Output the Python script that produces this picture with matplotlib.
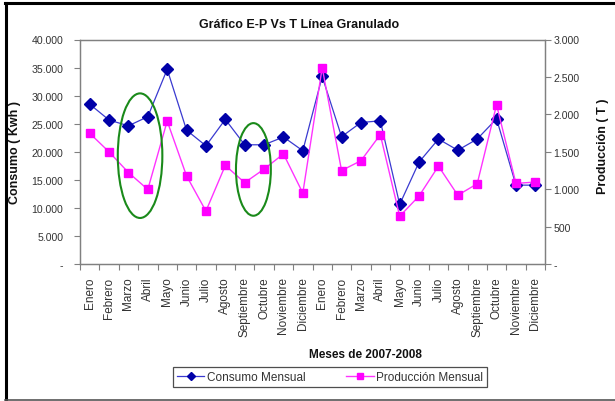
import matplotlib
matplotlib.use("Agg")
import matplotlib.pyplot as plt
from matplotlib.patches import Ellipse
from matplotlib.lines import Line2D
from matplotlib.ticker import FuncFormatter, FixedLocator
import numpy as np

plt.rcParams["font.family"] = ["Liberation Sans", "DejaVu Sans"]

# data (2007-2008)
meses = ["Enero", "Febrero", "Marzo", "Abril", "Mayo", "Junio", "Julio",
         "Agosto", "Septiembre", "Octubre", "Noviembre", "Diciembre"] * 2
consumo = [28480, 25650, 24620, 26250, 34690, 23840, 21060, 25770, 21240,
           21240, 22630, 20180, 33410, 22680, 25210, 25510, 10620, 18160,
           22260, 20270, 22260, 25880, 14050, 14050]
produccion = [1747, 1498, 1222, 996, 1910, 1177, 707, 1317, 1087, 1268,
              1471, 948, 2624, 1249, 1380, 1729, 638, 909, 1308, 919, 1072,
              2127, 1077, 1095]

# highlighted zones (x index centre, width, consumo centre, height)
zonas = [(2.6, 2.3, 19300, 22200), (8.45, 1.8, 16850, 16500)]

TXT = "#333333"
GRID = "#808080"

fig = plt.figure(figsize=(6.15, 4.02), dpi=100)
ax = fig.add_axes([80/615, 1 - 265/402, 465/615, 224.5/402])
ax2 = ax.twinx()

x = np.arange(len(meses))
ax.plot(x, consumo, color="#3a3ad0", lw=0.9, marker="D", ms=5.8,
        mfc="#0000a8", mec="#0000a8", zorder=3)
ax2.plot(x, produccion, color="#ff33ff", lw=1.0, marker="s", ms=5.8,
         mfc="#ff00ff", mec="#ff00ff", zorder=3)

for cx, w, cy, h in zonas:
    ax2.add_patch(Ellipse((cx, cy), w, h, fill=False, ec="#1a8a1a", lw=1.5,
                          transform=ax.transData, zorder=5))

ax.set_xlim(-0.5, len(meses) - 0.5)
ax.set_ylim(0, 40000)
ax2.set_ylim(0, 3000)
ax.set_yticks(np.arange(0, 40001, 5000))
ax2.set_yticks(np.arange(0, 3001, 500))

fmt = FuncFormatter(lambda v, p: "-" if v == 0 else f"{v:,.0f}".replace(",", "."))
ax.yaxis.set_major_formatter(fmt)
ax2.yaxis.set_major_formatter(fmt)

ax.xaxis.set_major_locator(FixedLocator(np.arange(-0.5, len(meses), 1)))
ax.xaxis.set_minor_locator(FixedLocator(x))
ax.set_xticklabels([])
ax.set_xticklabels(meses, minor=True, rotation=90, fontsize=8.5, color=TXT)
ax.tick_params(axis="x", which="minor", length=0, pad=9)
ax.tick_params(axis="x", which="major", length=4, color=GRID, direction="out")

for a in (ax, ax2):
    for s in a.spines.values():
        s.set_color(GRID)
        s.set_linewidth(0.9)
ax.tick_params(axis="y", length=4, color=GRID, labelsize=7.6, labelcolor=TXT, pad=8)
ax2.tick_params(axis="y", length=4, color=GRID, labelsize=7.6, labelcolor=TXT, pad=2)

fig.text(299/615, 1 - 25/402, "Gráfico E-P Vs T Línea Granulado", ha="center",
         va="center", fontsize=9, fontweight="bold", color="#111111")
fig.text(15/615, 1 - 152/402, "Consumo ( Kwh )", rotation=90, ha="center",
         va="center", fontsize=9, fontweight="bold", color="#111111")
fig.text(603/615, 1 - 146/402, "Producción ( T )", rotation=90, ha="center",
         va="center", fontsize=9, fontweight="bold", color="#111111")
fig.text(365/615, 1 - 355/402, "Meses de 2007-2008", ha="center", va="center",
         fontsize=8.5, fontweight="bold", color="#111111")

handles = [Line2D([], [], color="#3a3ad0", lw=0.9, marker="D", ms=4,
                  mfc="#0000a8", mec="#0000a8"),
           Line2D([], [], color="#ff33ff", lw=1.0, marker="s", ms=4,
                  mfc="#ff00ff", mec="#ff00ff")]
leg = fig.legend(handles, ["Consumo Mensual", "Producción Mensual"], ncol=2,
                 loc="center", bbox_to_anchor=(330/615, 1 - 378/402),
                 fontsize=8.5, frameon=True, fancybox=False, handlelength=2.3,
                 columnspacing=3.5, borderpad=0.35, handletextpad=0.2)
leg.get_frame().set_edgecolor("#222222")
leg.get_frame().set_linewidth(0.9)
for t in leg.get_texts():
    t.set_color(TXT)

# outer frame (left/top dark, bottom grey)
fig.add_artist(Line2D([6/615, 6/615], [0, 1 - 4/402], transform=fig.transFigure,
                      color="black", lw=2.2))
fig.add_artist(Line2D([5/615, 1], [1 - 4/402, 1 - 4/402], transform=fig.transFigure,
                      color="black", lw=2.2))
fig.add_artist(Line2D([5/615, 1], [1/402, 1/402], transform=fig.transFigure,
                      color="#555555", lw=1.2))

fig.savefig("out.png", dpi=100)
